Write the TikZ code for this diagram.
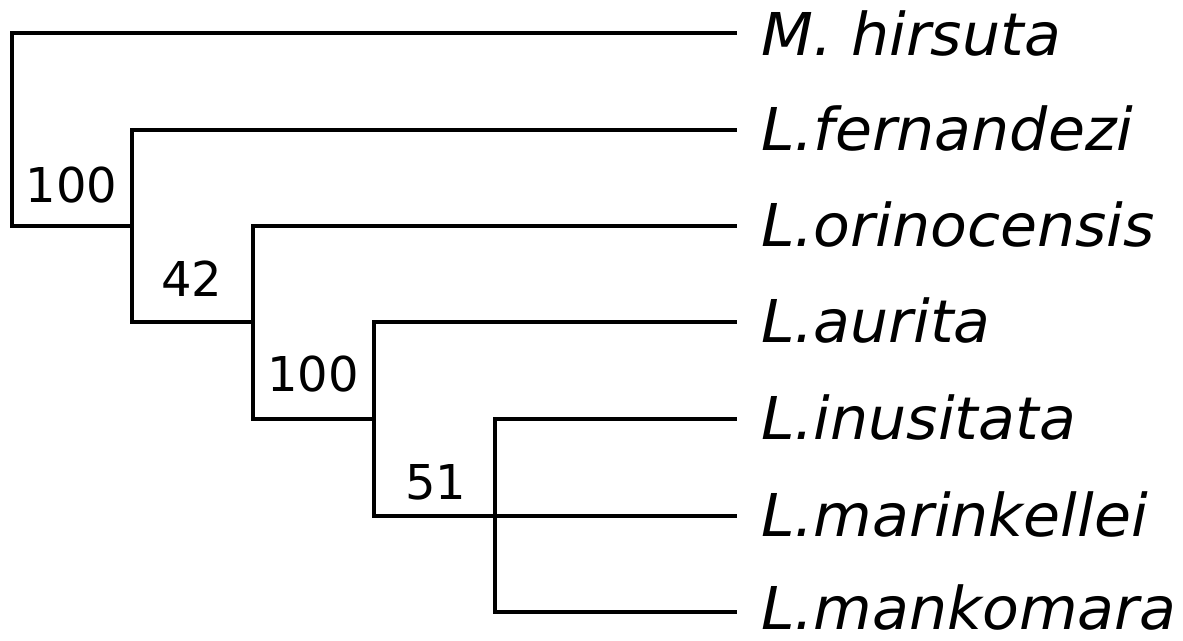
\documentclass[tikz,border=0pt]{standalone}
\usepackage{fontspec}
\setmainfont{DejaVu Sans}
\newfontfamily\taxfont{DejaVu Sans}[FakeStretch=1.02]
\begin{document}
\begin{tikzpicture}[x=1pt, y=-1pt,
  branch/.style={line width=4pt, line join=miter, line cap=rect},
  taxon/.style={anchor=base west, inner sep=0pt, font=\taxfont\fontsize{59}{59}\selectfont\itshape},
  support/.style={anchor=base, inner sep=0pt, font=\fontsize{48}{48}\selectfont}]
\useasboundingbox (0,0) rectangle (1183,640);

% internal nodes (vertical bars)
\coordinate (root) at (12,130);
\coordinate (n1) at (132,226);
\coordinate (n2) at (253,322);
\coordinate (n3) at (374,419);
\coordinate (n4) at (495,516);

% leaf ends
\coordinate (t1) at (735,33);
\coordinate (t2) at (735,130);
\coordinate (t3) at (735,226);
\coordinate (t4) at (735,322);
\coordinate (t5) at (735,419);
\coordinate (t6) at (735,516);
\coordinate (t7) at (735,612);

% branches
\draw[branch] (t1) -| (root |- t1) -- (root |- n1) -- (n1);
\draw[branch] (t2) -| (n1 |- t2) -- (n1 |- n2) -- (n2);
\draw[branch] (t3) -| (n2 |- t3) -- (n2 |- n3) -- (n3);
\draw[branch] (t4) -| (n3 |- t4) -- (n3 |- n4) -- (n4);
\draw[branch] (t5) -| (n4 |- t5) -- (n4 |- t7) -- (t7);
\draw[branch] (n4) -- (t6);

% taxon names
\node[taxon] (lab1) at ([xshift=26pt, yshift=-22pt]t1) {M. hirsuta};
\node[taxon] (lab2) at ([xshift=26pt, yshift=-20pt]t2) {L.fernandezi};
\node[taxon] (lab3) at ([xshift=26pt, yshift=-20pt]t3) {L.orinocensis};
\node[taxon] (lab4) at ([xshift=26pt, yshift=-20pt]t4) {L.aurita};
\node[taxon] (lab5) at ([xshift=26pt, yshift=-20pt]t5) {L.inusitata};
\node[taxon] (lab6) at ([xshift=26pt, yshift=-20pt]t6) {L.marinkellei};
\node[taxon] (lab7) at ([xshift=26pt, yshift=-17pt]t7) {L.mankomara};

% bootstrap support values
\node[support] (s1) at (71.5,202) {100};
\node[support] (s2) at (192,296) {42};
\node[support] (s3) at (313,391) {100};
\node[support] (s4) at (436,499) {51};
\end{tikzpicture}
\end{document}
